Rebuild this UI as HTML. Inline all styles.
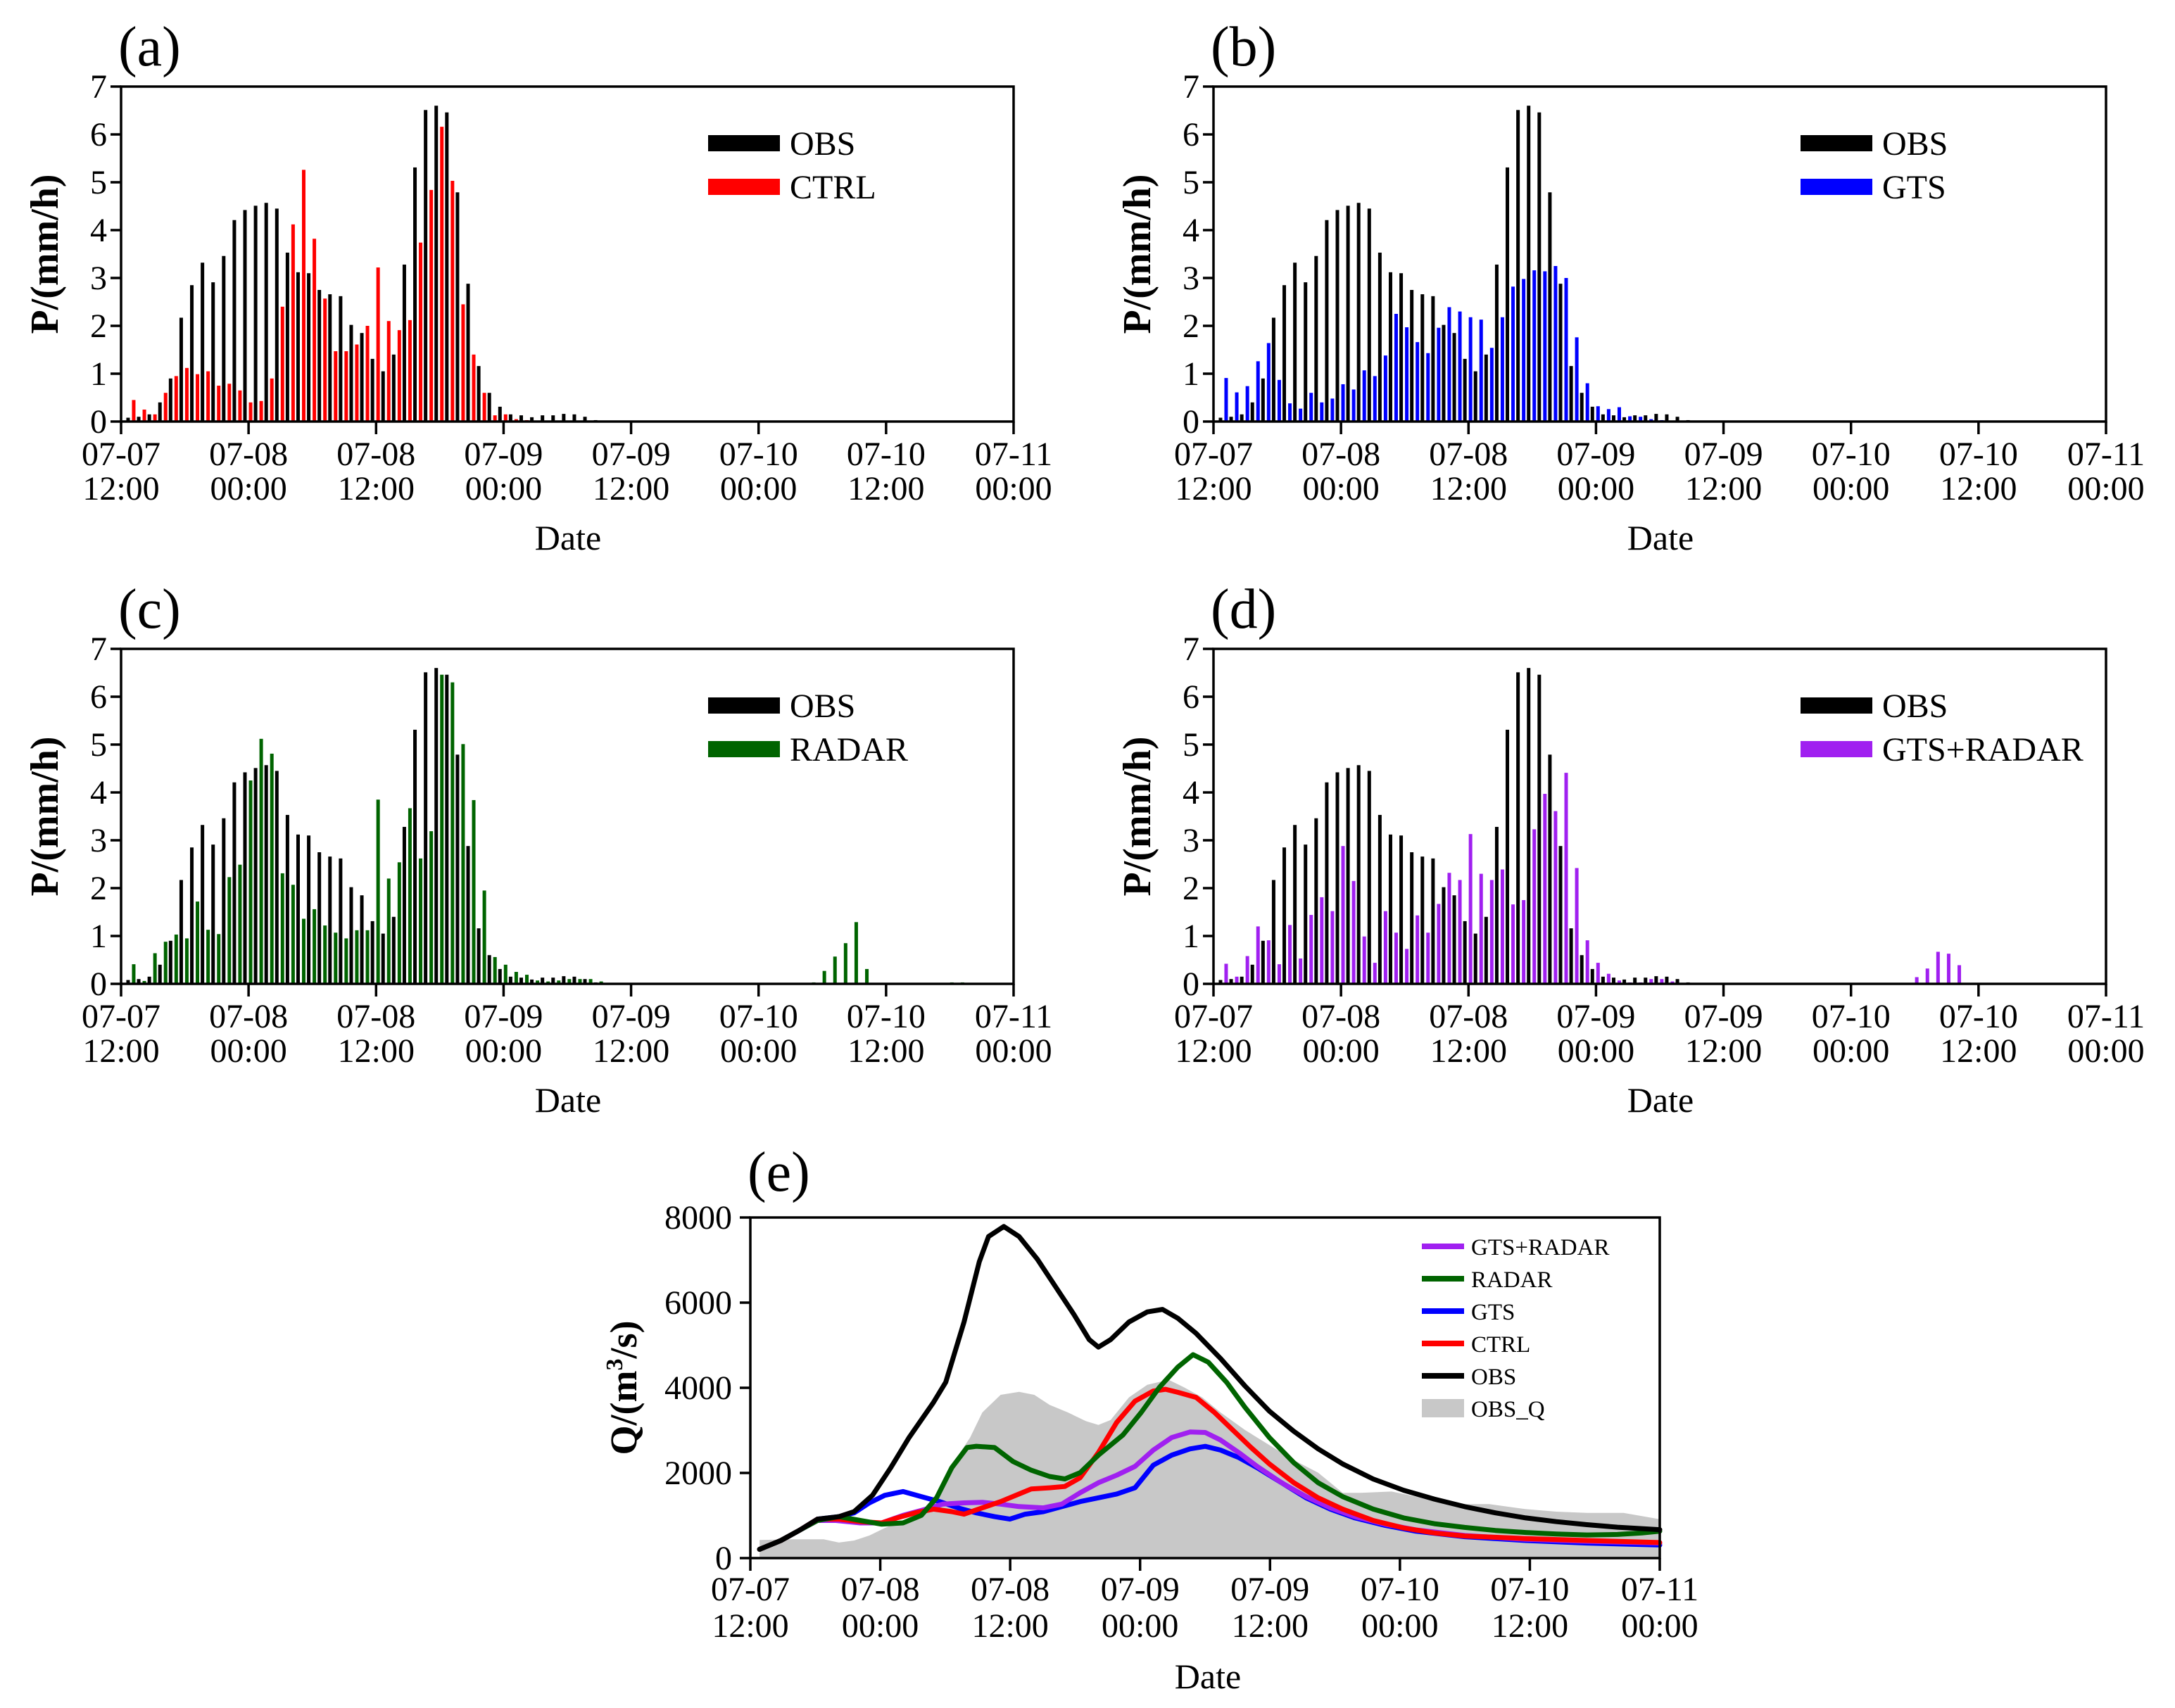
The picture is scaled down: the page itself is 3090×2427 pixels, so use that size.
<!DOCTYPE html>
<html><head><meta charset="utf-8"><style>
html,body{margin:0;padding:0;background:#fff;}
svg, svg text{font-family:"Liberation Serif","DejaVu Serif",serif;}
</style></head><body>
<svg id="fig" width="3090" height="2422" viewBox="0 0 3090 2422" font-family="Liberation Serif, DejaVu Serif, serif" xmlns="http://www.w3.org/2000/svg"></svg>
<script>
// ---------- Data: hourly precipitation (mm/h), index = hours since 07-07 12:00 ----------
const obsP  = [0.08,0.1,0.15,0.4,0.9,2.17,2.85,3.32,2.91,3.46,4.21,4.42,4.51,4.57,4.45,3.53,3.12,3.1,2.75,2.66,2.62,2.02,1.85,1.31,1.05,1.4,3.28,5.31,6.51,6.6,6.46,4.79,2.88,1.16,0.6,0.31,0.15,0.13,0.09,0.13,0.13,0.16,0.15,0.1,0.03,0.02,0.02,0.02];
const ctrlP = [0.45,0.25,0.15,0.6,0.95,1.12,0.99,1.05,0.75,0.79,0.65,0.4,0.43,0.9,2.4,4.12,5.26,3.82,2.57,1.47,1.47,1.61,2.0,3.22,2.1,1.91,2.12,3.74,4.84,6.16,5.03,2.45,1.4,0.6,0.13,0.15,0.05,0.03];
const gtsP  = [0.91,0.61,0.74,1.26,1.64,0.87,0.38,0.27,0.6,0.4,0.48,0.78,0.67,1.07,0.95,1.38,2.25,1.97,1.66,1.43,1.96,2.39,2.3,2.18,2.13,1.54,2.18,2.82,2.98,3.16,3.14,3.25,3.0,1.76,0.8,0.32,0.26,0.3,0.11,0.1,0.05,0.03];
const radarP = [0.41,0.06,0.64,0.88,1.03,0.95,1.72,1.13,1.04,2.23,2.49,4.25,5.12,4.81,2.31,2.07,1.36,1.56,1.22,1.07,0.95,1.12,1.12,3.85,2.2,2.54,3.67,2.62,3.19,6.46,6.3,5.01,3.84,1.95,0.56,0.4,0.25,0.19,0.07,0.05,0.07,0.1,0.1,0.1,0.05,0,0,0,0,0,0,0,0,0,0,0,0,0,0,0,0,0,0,0,0.03,0.27,0.57,0.85,1.29,0.31,0.02,0,0,0,0,0,0,0.03,0.03];
const gtsRadarP = [0.42,0.15,0.58,1.2,0.91,0.41,1.23,0.53,1.44,1.81,1.52,2.88,2.15,0.99,0.44,1.52,1.07,0.73,1.43,1.07,1.67,2.32,2.17,3.13,2.3,2.17,2.39,1.66,1.75,3.23,3.97,3.61,4.41,2.42,0.91,0.44,0.21,0.07,0.03,0.03,0.1,0.1,0.05,0,0,0,0,0,0,0,0,0,0,0,0,0,0,0,0,0,0,0,0,0,0,0.14,0.32,0.67,0.63,0.39];
const yTicksP = [0,1,2,3,4,5,6,7];
const dateTop = ["07-07","07-08","07-08","07-09","07-09","07-10","07-10","07-11"];
const dateBot = ["12:00","00:00","12:00","00:00","12:00","00:00","12:00","00:00"];

// ---------- Data: discharge (m3/s), times in hours since 07-07 12:00 ----------
const obsT = [0.85,2.82,4.51,6.2,8.18,9.59,11.28,12.97,14.66,16.92,18.05,19.74,21.15,22.0,23.41,24.82,26.51,28.2,29.89,31.3,32.15,33.28,34.97,36.66,38.07,39.48,41.17,43.43,45.69,47.94,50.2,52.45,54.71,57.53,60.35,63.17,65.99,68.81,71.63,74.45,77.27,80.09,84];
const obsQ = [206,413,649,915,974,1092,1475,2124,2832,3658,4130,5546,6962,7552,7788,7552,7021,6372,5723,5133,4956,5133,5546,5782,5841,5634,5280,4690,4041,3451,2979,2566,2212,1858,1593,1386,1209,1062,944,856,785,726,667];
const radarT = [0.85,2.82,4.51,6.2,8.18,10.15,12.13,14.1,15.79,17.2,18.61,20.02,20.87,22.56,24.25,25.95,27.64,29.05,30.46,32.15,34.41,36.1,37.79,39.48,40.89,42.3,43.99,45.69,47.94,50.2,52.45,54.71,57.53,60.35,63.17,65.99,68.81,71.63,74.45,77.27,80.09,82.35,84];
const radarQ = [207,413,649,885,974,885,797,826,1003,1416,2124,2596,2626,2596,2271,2065,1918,1859,2006,2419,2891,3422,4012,4484,4779,4602,4130,3540,2832,2242,1770,1445,1150,944,808,720,649,602,566,543,555,590,631];
const ctrlT = [0.85,2.82,4.51,6.2,8.18,10.15,12.13,13.54,15.23,16.92,18.61,19.74,21.43,23.12,24.82,25.95,27.64,29.05,30.46,32.15,33.84,35.53,37.22,38.35,39.48,41.17,42.87,44.56,46.25,47.94,50.2,52.45,54.71,57.53,60.35,63.17,65.99,71.63,77.27,84];
const ctrlQ = [207,413,649,915,915,856,826,944,1062,1150,1091,1032,1180,1328,1505,1623,1652,1682,1888,2478,3186,3688,3924,3965,3894,3776,3422,3009,2596,2212,1770,1416,1150,885,708,590,519,460,413,366];
const gtsT = [0.85,2.82,4.51,6.2,8.18,9.59,11,12.41,14.1,15.79,17.48,19.18,20.87,22.56,23.97,25.38,27.07,28.76,30.46,32.15,33.84,35.53,37.22,38.92,40.61,42.02,43.43,45.12,46.81,49.07,51.33,53.58,55.84,58.66,61.48,65.99,71.63,77.27,84];
const gtsQ = [207,413,649,915,974,1062,1298,1475,1564,1445,1327,1180,1062,974,915,1032,1091,1209,1327,1416,1505,1652,2183,2419,2566,2625,2537,2360,2124,1770,1416,1150,944,767,631,502,413,354,307];
const gtsRadarT = [0.85,2.82,4.51,6.2,7.9,10.15,12.13,14.1,15.79,17.77,19.74,21.43,23.12,24.82,27.07,28.76,30.46,32.15,33.84,35.53,37.22,38.92,40.61,42.02,43.43,45.12,46.81,49.07,51.33,53.58,55.84,58.66,61.48,65.99,71.63,77.27,84];
const gtsRadarQ = [207,413,649,885,885,826,826,1003,1121,1268,1298,1310,1268,1210,1180,1268,1534,1770,1947,2153,2537,2832,2962,2950,2773,2478,2153,1770,1445,1180,974,797,661,531,442,395,354];
const obsQT = [0.85,3.95,6.77,8.18,9.59,11,12.41,14.1,15.79,17.48,18.61,20.3,21.43,23.12,24.82,26.23,27.64,29.33,31.02,32.15,33.28,34.97,36.66,38.64,40.05,41.74,43.43,45.69,47.94,50.2,52.45,54.71,56.4,59.22,62.04,64.86,68.24,71.63,74.45,77.27,80.65,84];
const obsQQ = [425,443,443,366,413,531,708,885,1092,1593,2183,2832,3422,3835,3906,3835,3599,3422,3215,3127,3245,3776,4071,4189,4012,3776,3422,3009,2655,2301,2006,1534,1534,1564,1416,1268,1268,1150,1091,1062,1062,914];
const yTicksQ = [0,2000,4000,6000,8000];

const NS = "http://www.w3.org/2000/svg";
const FONT = '"Liberation Serif", "DejaVu Serif", serif';
const svg = document.getElementById('fig');
function mk(tag, attrs, parent, txt){
  const e = document.createElementNS(NS, tag);
  for (const k in attrs) e.setAttribute(k, attrs[k]);
  if (tag === 'text') e.style.fontFamily = FONT;
  if (txt !== undefined) e.textContent = txt;
  (parent || svg).appendChild(e);
  return e;
}

function barPanel(px, py, label, simName, simVals, color, key){
  const W = 1268, H = 476, HOURS = 84;
  const g = mk('g', {});
  
  
  const xs = h => px + h * W / HOURS;
  const ys = v => py + H - v * H / 7;
  const pl = mk('text', {x: px - 4, y: py - 30, 'font-size': 80}, g, label);
  
  
  const bw = 5;
  obsP.forEach((v, i) => {
    if (v <= 0) return;
    const x = xs(i + 0.66);
    const r = mk('rect', {x: x - bw/2, y: ys(v), width: bw, height: ys(0) - ys(v), fill: '#000'}, g);
    
    
  });
  simVals.forEach((v, i) => {
    if (v <= 0) return;
    const x = xs(i + 1.19);
    const r = mk('rect', {x: x - bw/2, y: ys(v), width: bw, height: ys(0) - ys(v), fill: color}, g);
    
    
  });
  const fr = mk('rect', {x: px, y: py, width: W, height: H, fill: 'none', stroke: '#000', 'stroke-width': 3.5}, g);
  
  
  yTicksP.forEach(t => {
    mk('line', {x1: px - 15, x2: px, y1: ys(t), y2: ys(t), stroke: '#000', 'stroke-width': 3.5}, g);
    const tl = mk('text', {x: px - 20, y: ys(t) + 16, 'font-size': 48, 'text-anchor': 'end'}, g, String(t));
    
    
  });
  dateTop.forEach((d, k) => {
    const x = xs(k * 12);
    mk('line', {x1: x, x2: x, y1: py + H, y2: py + H + 18, stroke: '#000', 'stroke-width': 3.5}, g);
    const t1 = mk('text', {x: x, y: py + H + 62, 'font-size': 48, 'text-anchor': 'middle'}, g, d);
    
    
    const t2 = mk('text', {x: x, y: py + H + 111, 'font-size': 48, 'text-anchor': 'middle'}, g, dateBot[k]);
    
    
  });
  const xt = mk('text', {x: px + 635, y: py + H + 182, 'font-size': 50, 'text-anchor': 'middle'}, g, 'Date');
  
  
  const yt = mk('text', {x: 0, y: 0, 'font-size': 56, 'font-weight': 'bold', 'text-anchor': 'middle', transform: `translate(${px - 90},${py + H/2}) rotate(-90)`}, g, 'P/(mm/h)');
  
  
  const lx = px + 834, ly = py + 69;
  const l1 = mk('rect', {x: lx, y: ly, width: 102, height: 23, fill: '#000'}, g);
  
  
  const lt1 = mk('text', {x: lx + 116, y: ly + 28, 'font-size': 48}, g, 'OBS');
  
  
  const l2 = mk('rect', {x: lx, y: ly + 62, width: 102, height: 23, fill: color}, g);
  
  
  const lt2 = mk('text', {x: lx + 116, y: ly + 90, 'font-size': 48}, g, simName);
  
  
}

barPanel(172, 123, '(a)', 'CTRL', ctrlP, '#ff0000', 'a');
barPanel(1724, 123, '(b)', 'GTS', gtsP, '#0000ff', 'b');
barPanel(172, 922, '(c)', 'RADAR', radarP, '#006400', 'c');
barPanel(1724, 922, '(d)', 'GTS+RADAR', gtsRadarP, '#a020f0', 'd');

// ---------- Panel e ----------
(function(){
  const px = 1066, py = 1730, W = 1292, H = 484, HOURS = 84, YMAX = 8000;
  const g = mk('g', {});
  
  
  const xs = h => px + h * W / HOURS;
  const ys = v => py + H - v * H / YMAX;
  const pl = mk('text', {x: px - 4, y: py - 38, 'font-size': 80}, g, '(e)');
  
  
  let d = `M${xs(obsQT[0])},${ys(0)} `;
  obsQT.forEach((t, i) => { d += `L${xs(t).toFixed(1)},${ys(obsQQ[i]).toFixed(1)} `; });
  d += `L${xs(obsQT[obsQT.length-1])},${ys(0)} Z`;
  const area = mk('path', {d: d, fill: '#c8c8c8', stroke: 'none'}, g);
  
  
  function line(T, Q, color, name){
    const pts = T.map((t, i) => `${xs(t).toFixed(1)},${ys(Q[i]).toFixed(1)}`).join(' ');
    const p = mk('polyline', {points: pts, fill: 'none', stroke: color, 'stroke-width': 7, 'stroke-linejoin': 'round', 'stroke-linecap': 'round'}, g);
    
    
  }
  line(gtsT, gtsQ, '#0000ff', 'gts-line');
  line(gtsRadarT, gtsRadarQ, '#a020f0', 'gts-radar-line');
  line(ctrlT, ctrlQ, '#ff0000', 'ctrl-line');
  line(radarT, radarQ, '#006400', 'radar-line');
  line(obsT, obsQ, '#000000', 'obs-line');
  const fr = mk('rect', {x: px, y: py, width: W, height: H, fill: 'none', stroke: '#000', 'stroke-width': 3.5}, g);
  
  
  yTicksQ.forEach(t => {
    mk('line', {x1: px - 15, x2: px, y1: ys(t), y2: ys(t), stroke: '#000', 'stroke-width': 3.5}, g);
    const tl = mk('text', {x: px - 26, y: ys(t) + 16, 'font-size': 48, 'text-anchor': 'end'}, g, String(t));
    
    
  });
  dateTop.forEach((dd, k) => {
    const x = xs(k * 12);
    mk('line', {x1: x, x2: x, y1: py + H, y2: py + H + 18, stroke: '#000', 'stroke-width': 3.5}, g);
    const t1 = mk('text', {x: x, y: py + H + 60, 'font-size': 48, 'text-anchor': 'middle'}, g, dd);
    
    
    const t2 = mk('text', {x: x, y: py + H + 112, 'font-size': 48, 'text-anchor': 'middle'}, g, dateBot[k]);
    
    
  });
  const xt = mk('text', {x: px + 650, y: py + H + 185, 'font-size': 50, 'text-anchor': 'middle'}, g, 'Date');
  
  
  const yt = mk('text', {x: 0, y: 0, 'font-size': 54, 'font-weight': 'bold', 'text-anchor': 'middle', transform: `translate(${px - 162},${py + H/2}) rotate(-90)`}, g);
  
  
  mk('tspan', {}, yt, 'Q/(m');
  mk('tspan', {dy: -20, 'font-size': 34}, yt, '3');
  mk('tspan', {dy: 20}, yt, '/s)');
  const names = ['GTS+RADAR','RADAR','GTS','CTRL','OBS','OBS_Q'];
  const cols = ['#a020f0','#006400','#0000ff','#ff0000','#000000','#c8c8c8'];
  names.forEach((n, i) => {
    const yy = 1771 + i * 46;
    const sw = i === 5 ? mk('rect', {x: 2020, y: yy - 13, width: 60, height: 26, fill: cols[i]}, g)
                       : mk('rect', {x: 2020, y: yy - 4, width: 60, height: 8, fill: cols[i]}, g);
    
    
    const lt = mk('text', {x: 2090, y: yy + 12, 'font-size': 33}, g, n);
    
    
  });
})();
</script>
</body></html>
